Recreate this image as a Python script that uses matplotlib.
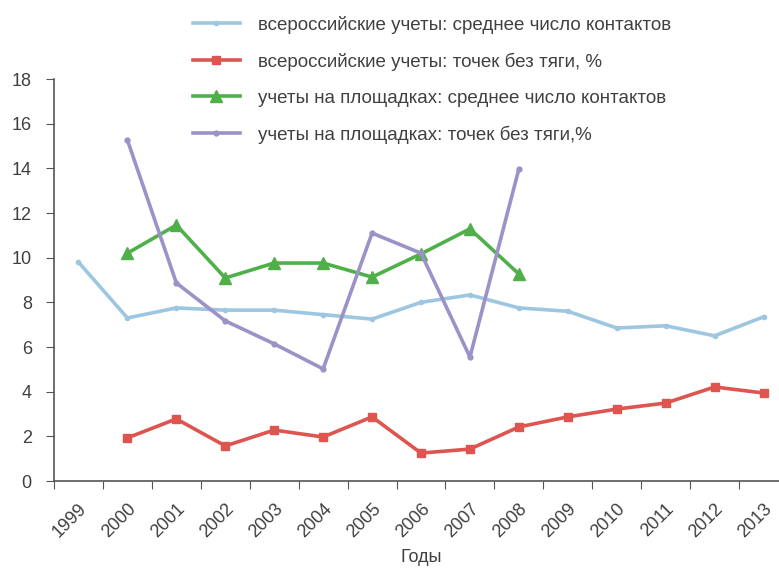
import matplotlib
matplotlib.use("Agg")
import matplotlib.pyplot as plt
import matplotlib.transforms as mtransforms
from matplotlib import font_manager

# Figure: line chart of counts by year (categorical x axis, Excel style)

years = ["1999", "2000", "2001", "2002", "2003", "2004", "2005", "2006",
         "2007", "2008", "2009", "2010", "2011", "2012", "2013"]

ru_contacts = [9.8, 7.3, 7.75, 7.65, 7.65, 7.45, 7.25, 8.0, 8.33, 7.75,
               7.6, 6.85, 6.95, 6.5, 7.35]
ru_empty = [None, 1.93, 2.78, 1.57, 2.28, 1.97, 2.87, 1.25, 1.43, 2.42,
            2.87, 3.22, 3.49, 4.21, 3.94]
site_contacts = [None, 10.2, 11.46, 9.09, 9.76, 9.76, 9.13, 10.17, 11.29, 9.27]
site_empty = [None, 15.27, 8.87, 7.17, 6.14, 5.02, 11.1, 10.2, 5.55, 13.97]

labels = [
    "всероссийские учеты: среднее число контактов",
    "всероссийские учеты: точек без тяги, %",
    "учеты на площадках: среднее число контактов",
    "учеты на площадках: точек без тяги,%",
]

names = {f.name for f in font_manager.fontManager.ttflist}
fam = "Liberation Sans Narrow" if "Liberation Sans Narrow" in names else "Liberation Sans"
plt.rcParams["font.family"] = [fam, "DejaVu Sans"]
txt = "#404040"

fig = plt.figure(figsize=(7.79, 5.68), dpi=100)
ax = fig.add_axes([54 / 779, 87 / 568, 734 / 779, 402 / 568])


def series(vals):
    xs = [i for i, v in enumerate(vals) if v is not None]
    ys = [v for v in vals if v is not None]
    return xs, ys


x, y = series(ru_contacts)
ax.plot(x, y, color="#9dc6e0", lw=2.6, marker="o", ms=3, label=labels[0])
x, y = series(ru_empty)
ax.plot(x, y, color="#de5550", lw=2.6, marker="s", ms=6, label=labels[1])
x, y = series(site_contacts)
ax.plot(x, y, color="#4fb04a", lw=2.6, marker="^", ms=8, label=labels[2])
x, y = series(site_empty)
ax.plot(x, y, color="#9c92c8", lw=2.6, marker="o", ms=3.5, label=labels[3])

ax.set_xlim(-0.5, len(years) - 0.5)
ax.set_ylim(0, 18)
ax.set_yticks(range(0, 19, 2))
ax.set_xticks([i - 0.5 for i in range(len(years) + 1)])
ax.set_xticklabels([])
ax.set_xticks(range(len(years)), minor=True)
ax.set_xticklabels(years, minor=True, rotation=45, ha="right",
                   rotation_mode="anchor", fontsize=13, color=txt)
shift = mtransforms.ScaledTranslation(-5 / 100, 0, fig.dpi_scale_trans)
for lab in ax.get_xticklabels(minor=True):
    lab.set_transform(lab.get_transform() + shift)
ax.tick_params(axis="x", which="minor", length=0, pad=14)
ax.tick_params(axis="x", which="major", length=6, direction="out", color="#555555")
ax.tick_params(axis="y", length=6, direction="out", color="#555555",
               labelsize=13, labelcolor=txt, pad=10)

for s in ["top", "right"]:
    ax.spines[s].set_visible(False)
for s in ["left", "bottom"]:
    ax.spines[s].set_color("#555555")
    ax.spines[s].set_linewidth(1.2)

ax.set_xlabel("Годы", fontsize=13, color=txt, labelpad=6)

leg = ax.legend(loc="upper left", bbox_to_anchor=(122 / 734, 1 + 80 / 402),
                frameon=False, fontsize=13.5, labelspacing=1.0,
                handlelength=2.5, handletextpad=1.0)
for t in leg.get_texts():
    t.set_color(txt)

fig.savefig("out.png", dpi=100)
